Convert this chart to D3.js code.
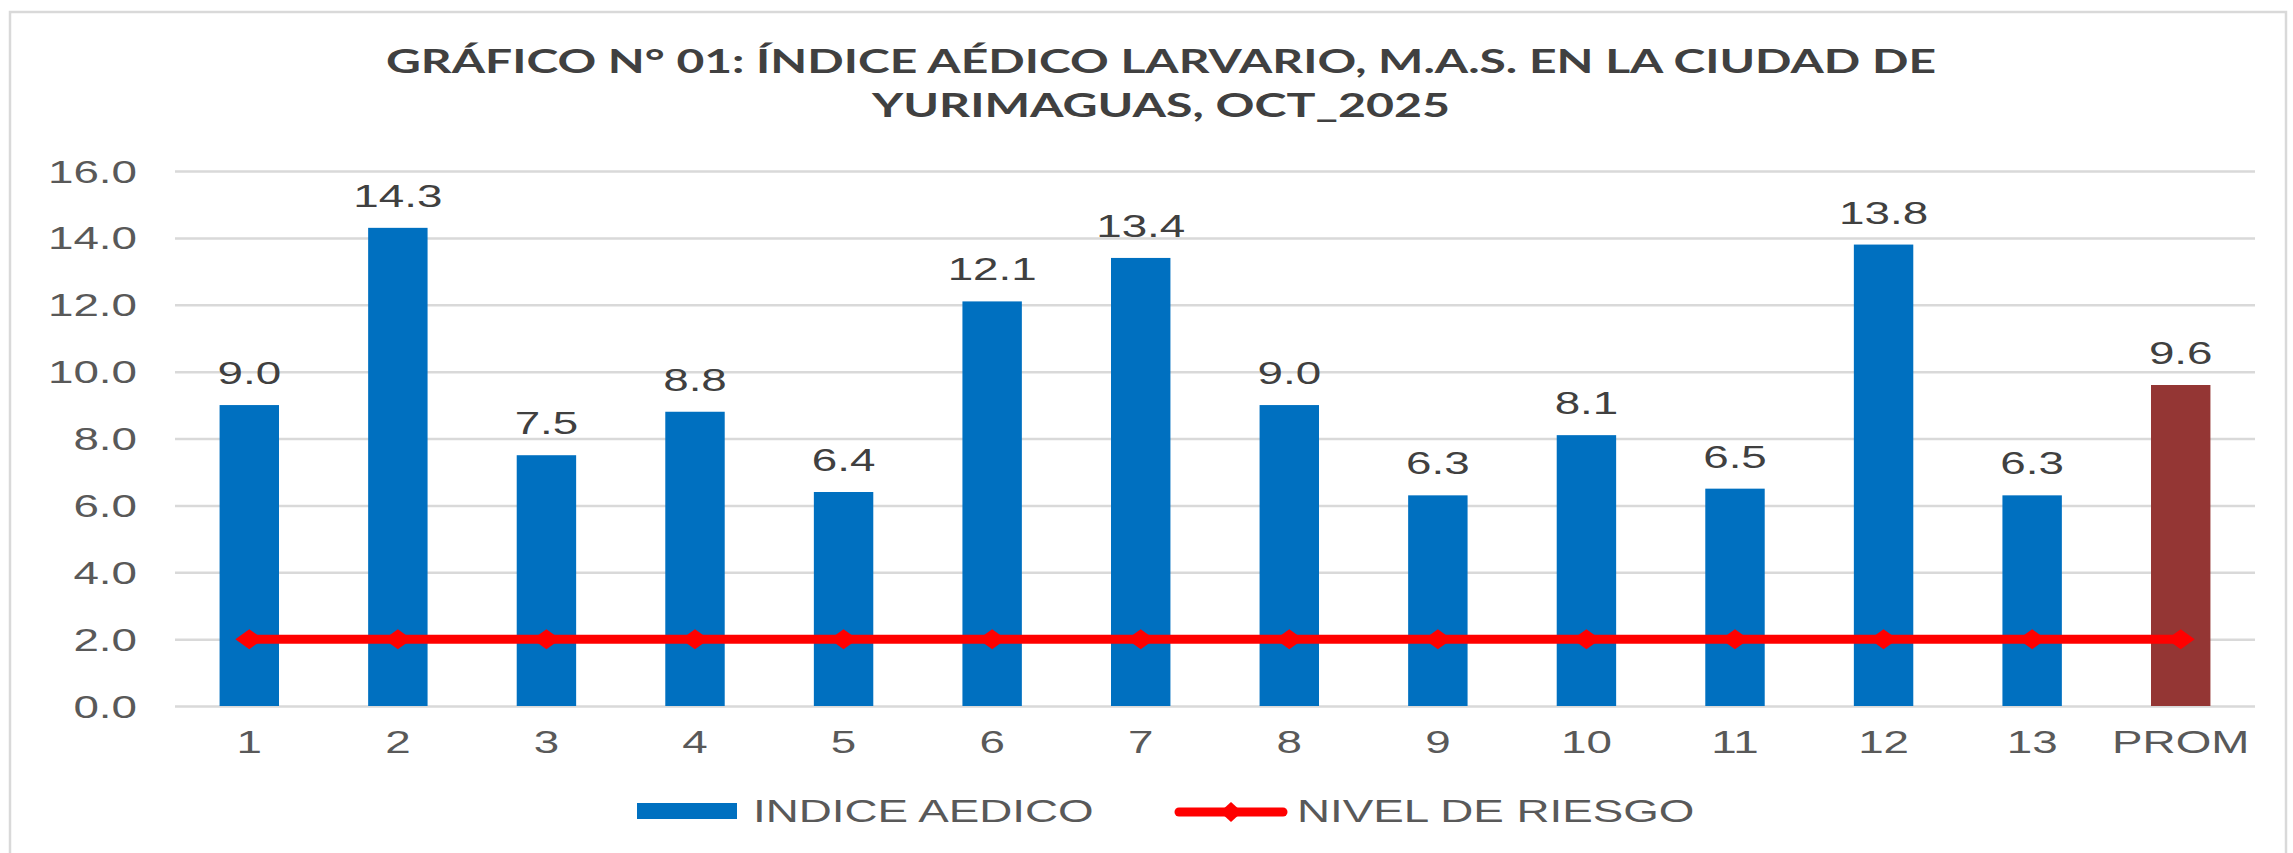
<!DOCTYPE html>
<html>
<head>
<meta charset="utf-8">
<script src="https://cdn.jsdelivr.net/npm/d3@7"></script>
<style>
  body { margin: 0; background: #fff; }
</style>
</head>
<body>
<div id="container"></div>
<script>
/* CONSTANTS AND GLOBALS */
const width = 2293,
    height = 853,
    sx = 1.43   // the picture is stretched sideways, text too

// DATA
const categories = ["1", "2", "3", "4", "5", "6", "7", "8", "9", "10", "11", "12", "13", "PROM"]
const indiceAedico = [9.0, 14.3, 7.5, 8.8, 6.4, 12.1, 13.4, 9.0, 6.3, 8.1, 6.5, 13.8, 6.3, 9.6]
const nivelRiesgo = [2.0, 2.0, 2.0, 2.0, 2.0, 2.0, 2.0, 2.0, 2.0, 2.0, 2.0, 2.0, 2.0, 2.0]
const yTicks = [0, 2, 4, 6, 8, 10, 12, 14, 16]
const titleLines = ["GRÁFICO N° 01: ÍNDICE AÉDICO LARVARIO, M.A.S. EN LA CIUDAD DE", "YURIMAGUAS, OCT_2025"]
const legendLabels = ["INDICE AEDICO", "NIVEL DE RIESGO"]

const data = categories.map((c, i) => ({ cat: c, value: indiceAedico[i], risk: nivelRiesgo[i] }))

//SCALE
const xScale = d3.scaleBand()
    .domain(categories)
    .range([175, 2255])
    .paddingInner(0.6)
    .paddingOuter(0.3)

const yScale = d3.scaleLinear()
    .domain([0, 16])
    .range([706, 171])

//SVG
const svg = d3.select("#container")
    .append("svg")
    .attr("width", width)
    .attr("height", height)
    .style("font-family", "Arial, 'Liberation Sans', sans-serif")

// chart border
svg.append("rect")
    .attr("x", 10).attr("y", 12)
    .attr("width", 2276).attr("height", 860)
    .attr("fill", "#fff")
    .attr("stroke", "#d9d9d9")
    .attr("stroke-width", 2.5)

// stretched text helper
function label(g, x, y, txt, anchor, size, color) {
    return g.append("text")
        .attr("transform", "translate(" + x + "," + y + ") scale(" + sx + ",1)")
        .attr("text-anchor", anchor)
        .style("font-size", size + "px")
        .attr("fill", color)
        .text(txt)
}

// TITLE
svg.selectAll(".title")
    .data(titleLines)
    .join("text")
    .attr("class", "title")
    .attr("x", 1161)
    .attr("y", (d, i) => 73 + i * 44)
    .attr("text-anchor", "middle")
    .attr("textLength", (d, i) => i === 0 ? 1550 : 578)
    .attr("lengthAdjust", "spacingAndGlyphs")
    .style("font-family", "Lato, 'Open Sans', sans-serif")
    .style("font-weight", "bold")
    .style("font-size", "33px")
    .attr("fill", "#404040")
    .text(d => d)

// GRID + Y AXIS
const yAxis = d3.axisLeft(yScale)
    .tickValues(yTicks)
    .tickSize(-(xScale.range()[1] - xScale.range()[0]))
    .tickFormat("")

svg.append("g")
    .attr("class", "axis")
    .attr("transform", "translate(" + xScale.range()[0] + ",0)")
    .call(yAxis)
    .call(g => g.select(".domain").remove())
    .call(g => g.selectAll(".tick line").attr("stroke", "#d9d9d9").attr("stroke-width", 2.5))

const yLabels = svg.append("g")
yTicks.forEach(t => label(yLabels, 137, yScale(t) + 11.5, d3.format(".1f")(t), "end", 32, "#595959"))

// BARS
svg.selectAll(".bar")
    .data(data)
    .join("rect")
    .attr("class", "bar")
    .attr("x", d => xScale(d.cat))
    .attr("y", d => yScale(d.value))
    .attr("width", xScale.bandwidth())
    .attr("height", d => yScale(0) - yScale(d.value))
    .attr("fill", d => d.cat === "PROM" ? "#943634" : "#0070c0")

// BAR LABELS
const barLabels = svg.append("g")
data.forEach(d => label(barLabels, xScale(d.cat) + xScale.bandwidth() / 2, yScale(d.value) - 21,
    d3.format(".1f")(d.value), "middle", 32, "#404040"))

// X LABELS
const xLabels = svg.append("g")
categories.forEach(c => label(xLabels, xScale(c) + xScale.bandwidth() / 2, 753, c, "middle", 32, "#595959"))

// RISK LINE
const line = d3.line()
    .x(d => xScale(d.cat) + xScale.bandwidth() / 2)
    .y(d => yScale(d.risk))

svg.append("path")
    .datum(data)
    .attr("d", line)
    .attr("fill", "none")
    .attr("stroke", "#ff0000")
    .attr("stroke-width", 9)

const diamond = "M-14,0L0,-10L14,0L0,10Z"
svg.selectAll(".marker")
    .data(data)
    .join("path")
    .attr("class", "marker")
    .attr("transform", d => "translate(" + (xScale(d.cat) + xScale.bandwidth() / 2) + "," + yScale(d.risk) + ")")
    .attr("d", diamond)
    .attr("fill", "#ff0000")

// LEGEND
const legend = svg.append("g")
legend.append("rect")
    .attr("x", 637).attr("y", 803)
    .attr("width", 100).attr("height", 16)
    .attr("fill", "#0070c0")
label(legend, 753, 822, legendLabels[0], "start", 32, "#595959")

legend.append("line")
    .attr("x1", 1179).attr("x2", 1283)
    .attr("y1", 812).attr("y2", 812)
    .attr("stroke", "#ff0000")
    .attr("stroke-width", 9)
    .attr("stroke-linecap", "round")
legend.append("path")
    .attr("transform", "translate(1231,812)")
    .attr("d", "M-11,0L0,-10L11,0L0,10Z")
    .attr("fill", "#ff0000")
label(legend, 1297, 822, legendLabels[1], "start", 32, "#595959")
</script>
</body>
</html>
